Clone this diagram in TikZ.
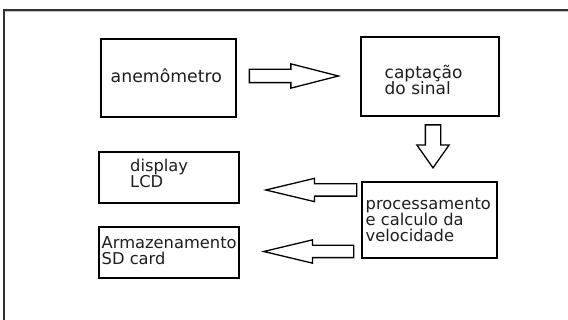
\documentclass[tikz,border=0pt]{standalone}
\usepackage{fontspec}
\setmainfont{DejaVu Sans}
\usetikzlibrary{shapes.arrows}
\definecolor{txt}{HTML}{1E1E1E}
\definecolor{frame}{HTML}{333333}
\begin{document}
\begin{tikzpicture}[x=1pt,y=-1pt,
  blk/.style={draw=black, line width=1.8pt, rectangle, inner sep=0pt},
  lbl/.style={anchor=base west, inner sep=0pt, align=left, text=txt,
              font=\fontsize{16.3}{16.2}\selectfont},
  fat/.style={draw=black, line width=1.3pt, single arrow, anchor=tip,
              single arrow head indent=0pt}]
\useasboundingbox (0,0) rectangle (568,320);
% outer frame
\draw[gray!50, line width=1pt] (5,11.6) -- (568,11.6);
\draw[frame, line width=1.6pt] (4,320) -- (4,10) -- (568,10);
% boxes
\node[blk, minimum width=135pt, minimum height=78pt] (anem) at (168.5,78) {};
\node[blk, minimum width=138pt, minimum height=79pt] (capt) at (430,76.5) {};
\node[blk, minimum width=140pt, minimum height=51pt] (disp) at (169,177.5) {};
\node[blk, minimum width=140pt, minimum height=51pt] (arm) at (169,252.5) {};
\node[blk, minimum width=135pt, minimum height=76pt] (proc) at (429.5,220) {};
% texts
\node[lbl, font=\fontsize{17.3}{17}\selectfont] (tanem) at (110.5,83) {anemômetro};
\node[lbl, font=\fontsize{17}{16.7}\selectfont] (tcapt) at (384.5,95) {captação\\do sinal};
\node[lbl] (tdisp) at (130,187.3) {display\\LCD};
\node[lbl] (tarm) at (101.5,265) {Armazenamento\\SD card};
\node[lbl] (tproc) at (365.5,241.7) {processamento\\e calculo da\\velocidade};
% block arrows
\node[fat, minimum height=89pt, inner xsep=0pt, inner ysep=6pt, single arrow head extend=5.5pt,
      single arrow tip angle=28.7] (a1) at (341,76) {};
\node[fat, minimum height=43pt, inner ysep=0pt, inner xsep=7pt, single arrow head extend=8.5pt,
      single arrow tip angle=70.3, shape border rotate=270] (a2) at (433,169) {};
\node[fat, minimum height=91pt, inner xsep=0pt, inner ysep=5.5pt, single arrow head extend=5.5pt,
      single arrow tip angle=26.9, shape border rotate=180] (a3) at (263,190) {};
\node[fat, minimum height=90pt, inner xsep=0pt, inner ysep=5.5pt, single arrow head extend=5.5pt,
      single arrow tip angle=26.9, shape border rotate=180] (a4) at (261,251.5) {};
\end{tikzpicture}
\end{document}
